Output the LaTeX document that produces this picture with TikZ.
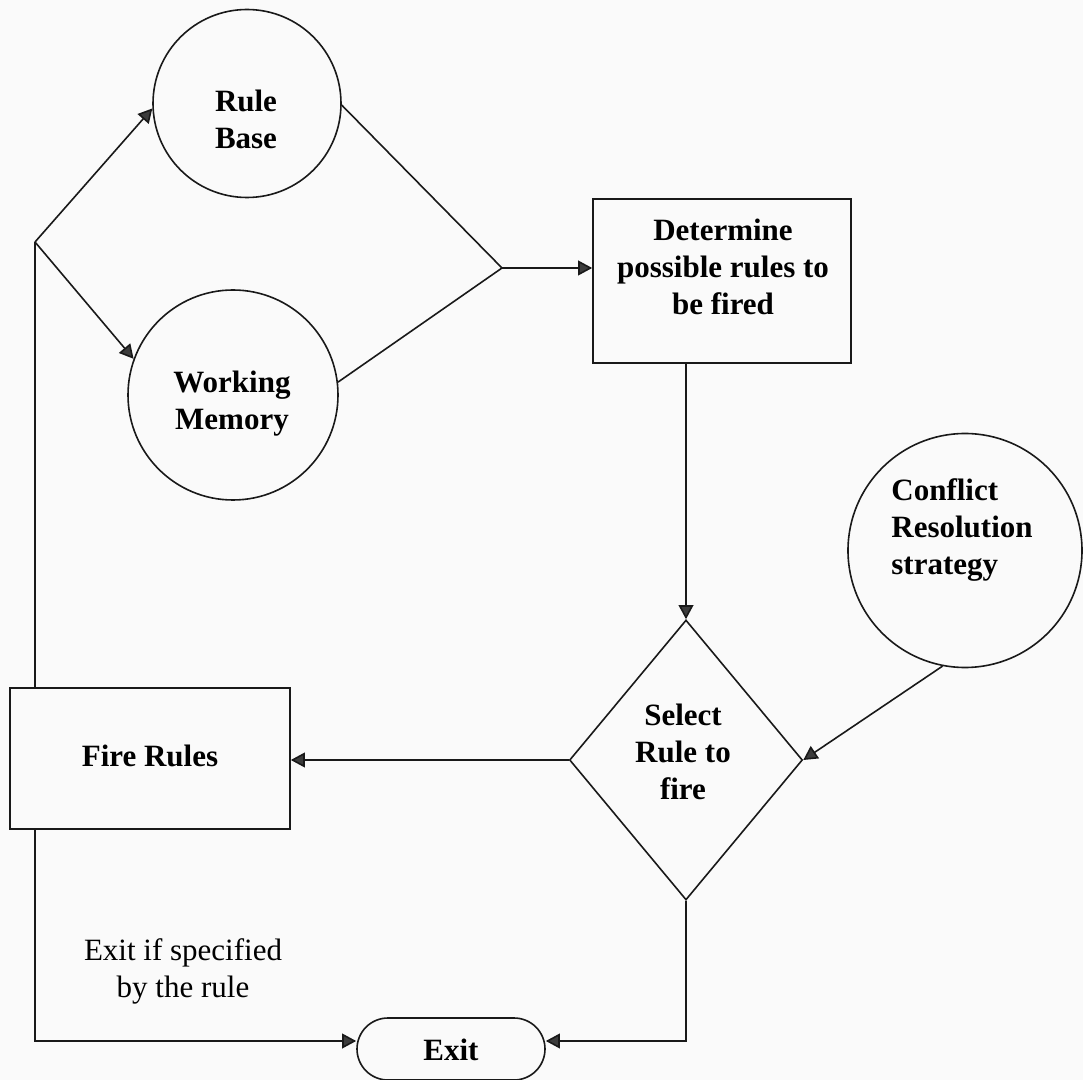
\documentclass[tikz,border=0pt]{standalone}
\usepackage{fontspec}
\setmainfont{Liberation Serif}
\usetikzlibrary{arrows.meta,shapes.geometric,shapes.misc}
\definecolor{paper}{RGB}{250,250,250}
\definecolor{ink}{RGB}{25,25,25}
\definecolor{tipgray}{RGB}{60,60,60}
\tikzset{
  shapeline/.style={draw=ink,line width=1.2pt,inner sep=0pt},
  roundnode/.style={shapeline,circle},
  boxnode/.style={shapeline,rectangle},
  decision/.style={shapeline,diamond},
  terminal/.style={shapeline,rounded rectangle},
  caption/.style={align=center,inner sep=0pt,font=\fontsize{23.25}{27.75}\selectfont\bfseries},
  plaincaption/.style={align=center,inner sep=0pt,font=\fontsize{23.25}{27.75}\selectfont},
  flow/.style={draw=ink,line width=1.2pt},
  arrow/.style={flow,-{Triangle[length=10.5pt,width=11pt,fill=tipgray]}}
}
\begin{document}
\begin{tikzpicture}[x=0.75pt,y=-0.75pt]
  % page
  \fill[paper] (0,0) rectangle (1083,1080);
  \useasboundingbox (0,0) rectangle (1083,1080);

  % shapes
  \node[roundnode,minimum size=141pt] (rb) at (247,103.5) {};
  \node[roundnode,minimum size=157.5pt] (wm) at (233,395) {};
  \node[boxnode,minimum width=193.5pt,minimum height=123pt] (det) at (722,281) {};
  \node[decision,minimum width=174.75pt,minimum height=210pt] (sel) at (686,760) {};
  \node[roundnode,minimum size=175.5pt] (cr) at (965,550.5) {};
  \node[boxnode,minimum width=210pt,minimum height=105.75pt] (fire) at (150,758.5) {};
  \node[terminal,minimum width=141pt,minimum height=46.5pt] (exit) at (451,1049) {};

  % labels
  \node[caption] (rbtext) at (246,119) {Rule\\Base};
  \node[caption] (wmtext) at (232,404) {Working\\Memory};
  \node[caption] (dettext) at (723,267) {Determine\\possible rules to\\be fired};
  \node[caption] (seltext) at (683,752) {Select\\Rule to\\fire};
  \node[caption,align=left] (crtext) at (962,530) {Conflict\\Resolution\\strategy};
  \node[caption] (firetext) at (150,756) {Fire Rules};
  \node[caption] (exittext) at (451,1050) {Exit};
  \node[plaincaption] (exitnote) at (183,971) {Exit if specified\\by the rule};

  % junctions
  \coordinate (j) at (35,242);
  \coordinate (m) at (502,268);

  % connectors
  \draw[arrow] (j) -- (rb.183);
  \draw[arrow] (j) -- (wm.160);
  \draw[flow] (j) -- (j |- fire.north);
  \draw[flow] (rb.-1) -- (m);
  \draw[flow] (wm.7) -- (m);
  \draw[arrow] (m) -- (m -| det.west);
  \draw[arrow] (det.south -| sel.north) -- (sel.north);
  \draw[arrow] (cr.259) -- (sel.east);
  \draw[arrow] (sel.west) -- (sel.west -| fire.east);
  \draw[arrow] (j |- fire.south) |- ([yshift=6pt]exit.west);
  \draw[arrow] (sel.south) |- ([yshift=6pt]exit.east);
\end{tikzpicture}
\end{document}
